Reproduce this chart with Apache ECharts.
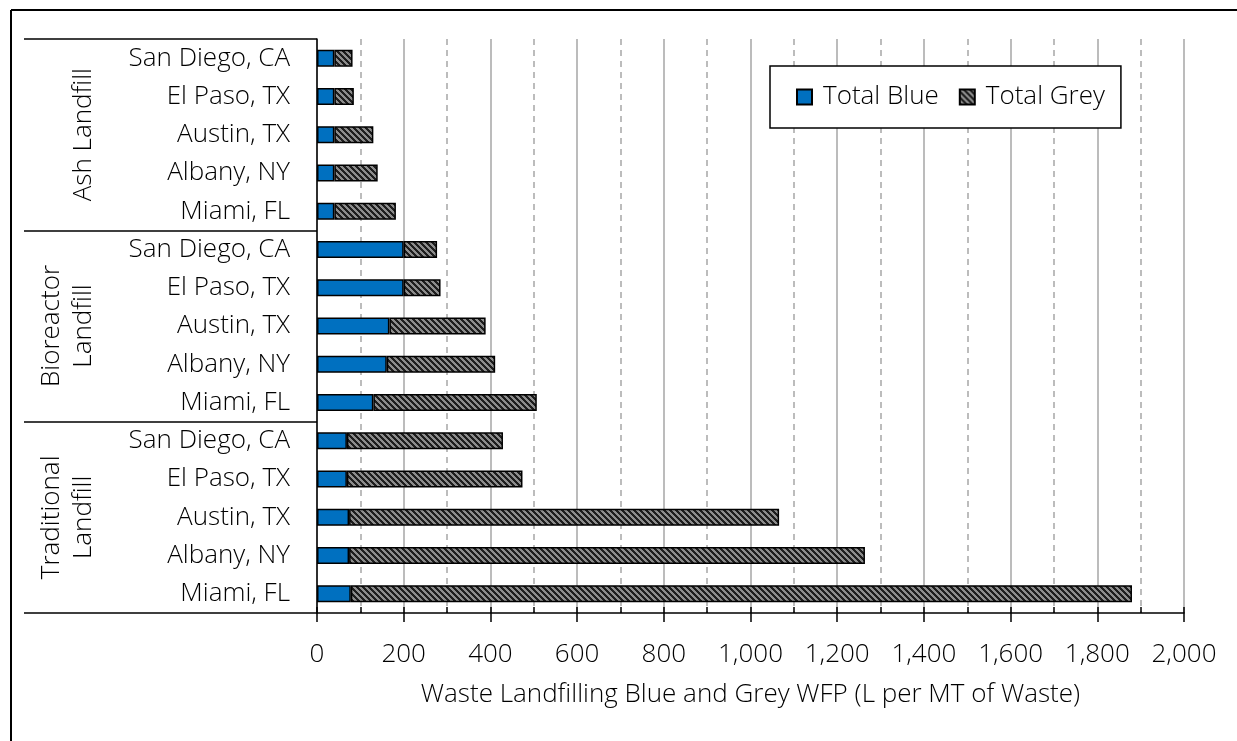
<!DOCTYPE html>
<html><head><meta charset="utf-8">
<script src="https://cdn.jsdelivr.net/npm/echarts@6/dist/echarts.min.js"></script>
<style>html,body{margin:0;padding:0;background:#fff}#c{width:1237px;height:741px}</style>
</head><body><div id="c"></div>
<script>
// Categories listed bottom to top (as drawn by the category axis)
const categories = [
  'Miami, FL','Albany, NY','Austin, TX','El Paso, TX','San Diego, CA',
  'Miami, FL','Albany, NY','Austin, TX','El Paso, TX','San Diego, CA',
  'Miami, FL','Albany, NY','Austin, TX','El Paso, TX','San Diego, CA'
];
const groups = ['Traditional\nLandfill','Bioreactor\nLandfill','Ash Landfill'];
const totalBlue = [78,74,74,69,69, 130,161,167,200,200, 40,40,40,40,40];
const totalGrey = [1802,1190,992,405,360, 377,250,222,85,77, 142,100,90,45,42];
const seriesNames = ['Total Blue','Total Grey'];
const xMin = 0, xMax = 2000, xInterval = 200;
const axisTitle = 'Waste Landfilling Blue and Grey WFP (L per MT of Waste)';

function stripes(){
  const s = 6;
  const c = document.createElement('canvas'); c.width = s; c.height = s;
  const g = c.getContext('2d');
  const img = g.createImageData(s, s);
  for (let y = 0; y < s; y++) for (let x = 0; x < s; x++) {
    const on = (((x - y) % s) + s) % s < 3;
    const v = on ? 140 : 30;
    const i = (y * s + x) * 4;
    img.data[i] = img.data[i+1] = img.data[i+2] = v; img.data[i+3] = 255;
  }
  g.putImageData(img, 0, 0);
  return c;
}

const FONT = "'Open Sans', 'Noto Sans', sans-serif";
const FS = 26;
const chart = echarts.init(document.getElementById('c'), null, {renderer: 'canvas'});
const option = {
  animation: false,
  backgroundColor: '#fff',
  textStyle: {fontFamily: FONT, fontWeight: 300, color: '#000'},
  grid: {left: 317, right: 53, top: 39, bottom: 128, containLabel: false},
  legend: {
    data: seriesNames,
    left: 770, top: 66,
    orient: 'horizontal',
    borderColor: '#000', borderWidth: 1.5, backgroundColor: '#fff',
    padding: [18, 16, 18, 26],
    itemGap: 20, itemWidth: 15, itemHeight: 15,
    icon: 'rect',
    textStyle: {fontSize: FS, color: '#000', fontFamily: FONT, fontWeight: 300, padding: [0, 0, 0, 6]}
  },
  xAxis: [{
    type: 'value', min: xMin, max: xMax, interval: xInterval, position: 'bottom',
    axisLine: {show: true, lineStyle: {color: '#000', width: 1.5}},
    axisTick: {show: true, length: 9, lineStyle: {color: '#000', width: 1.5}},
    axisLabel: {formatter: v => v.toLocaleString('en-US'), fontSize: FS, margin: 29, color: '#000', fontFamily: FONT, fontWeight: 300},
    splitLine: {show: true, lineStyle: {color: '#a6a6a6', width: 1.5}},
    minorTick: {show: false, splitNumber: 2},
    minorSplitLine: {show: true, lineStyle: {color: '#a6a6a6', width: 1.5, type: [6, 5]}},
    name: axisTitle, nameLocation: 'middle', nameGap: 69,
    nameTextStyle: {fontSize: FS, color: '#000', fontFamily: FONT, fontWeight: 300}
  }, {
    type: 'value', min: xMin, max: xMax, interval: xInterval / 2, position: 'bottom',
    axisLine: {show: false},
    axisTick: {show: true, inside: true, length: 6, lineStyle: {color: '#000', width: 1.5}},
    axisLabel: {show: false}, splitLine: {show: false}
  }],
  yAxis: [{
    type: 'category', data: categories, position: 'left',
    axisLine: {show: true, lineStyle: {color: '#000', width: 1.5}},
    axisTick: {show: false},
    axisLabel: {fontSize: FS, margin: 27, color: '#000', fontFamily: FONT, fontWeight: 300},
    splitLine: {show: false}
  }, {
    type: 'category', data: groups, position: 'left',
    axisLine: {show: false},
    axisTick: {show: true, length: 293, lineStyle: {color: '#000', width: 1.5}},
    axisLabel: {rotate: 90, margin: 217, align: 'center', verticalAlign: 'bottom', lineHeight: 32,
      fontSize: FS, color: '#000', fontFamily: FONT, fontWeight: 300},
    splitLine: {show: false}
  }],
  series: [{
    name: seriesNames[0], type: 'bar', stack: 'total', yAxisIndex: 0, xAxisIndex: 0,
    data: totalBlue, barWidth: 17,
    itemStyle: {color: '#0070C0', borderColor: '#000', borderWidth: 1.5}
  }, {
    name: seriesNames[1], type: 'bar', stack: 'total', yAxisIndex: 0, xAxisIndex: 0,
    data: totalGrey, barWidth: 17,
    itemStyle: {color: {image: stripes(), repeat: 'repeat'}, borderColor: '#000', borderWidth: 1.5}
  }],
  graphic: [
    {type: 'line', shape: {x1: 11, y1: 10, x2: 11, y2: 741}, style: {stroke: '#000', lineWidth: 2}},
    {type: 'line', shape: {x1: 11, y1: 10, x2: 1237, y2: 10}, style: {stroke: '#000', lineWidth: 2}}
  ]
};
chart.setOption(option);
</script>
</body></html>
